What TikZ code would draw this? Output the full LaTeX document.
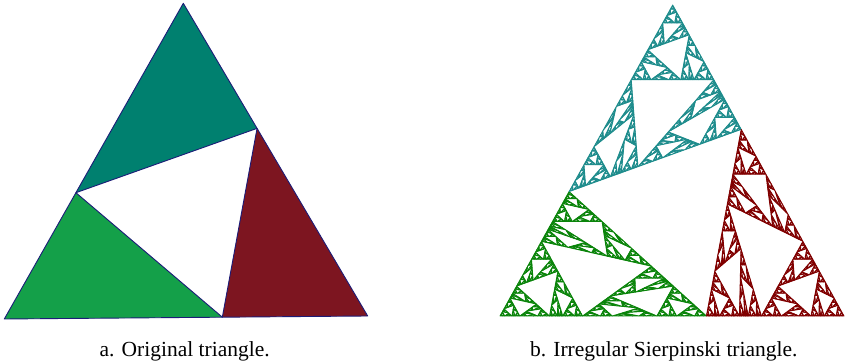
\documentclass[tikz,border=0pt]{standalone}
\usepackage{fontspec}
\setmainfont{Liberation Serif}
\definecolor{tealA}{HTML}{00806F}
\definecolor{redA}{HTML}{7D1520}
\definecolor{greenA}{HTML}{14A049}
\definecolor{edgeA}{HTML}{1C1C78}
\definecolor{tealB}{HTML}{1E8C8C}
\definecolor{redB}{HTML}{800000}
\definecolor{greenB}{HTML}{0A840A}
% recursive irregular Sierpinski: #1 depth, #2..#7 vertex coordinates (with units), #8 style
\newcommand\sierpT[8]{%
  \ifnum#1=0
    \filldraw[#8] (#2,#3)--(#4,#5)--(#6,#7)--cycle;
  \else
    \edef\sierpNext{%
      \noexpand\sierpT{\the\numexpr#1-1\relax}{#2}{#3}%
        {\the\dimexpr#6+(#2-#6)*2/5\relax}{\the\dimexpr#7+(#3-#7)*2/5\relax}%
        {\the\dimexpr#2+(#4-#2)*2/5\relax}{\the\dimexpr#3+(#5-#3)*2/5\relax}{\unexpanded{#8}}%
      \noexpand\sierpT{\the\numexpr#1-1\relax}%
        {\the\dimexpr#4+(#6-#4)*2/5\relax}{\the\dimexpr#5+(#7-#5)*2/5\relax}%
        {#4}{#5}%
        {\the\dimexpr#2+(#4-#2)*2/5\relax}{\the\dimexpr#3+(#5-#3)*2/5\relax}{\unexpanded{#8}}%
      \noexpand\sierpT{\the\numexpr#1-1\relax}%
        {\the\dimexpr#4+(#6-#4)*2/5\relax}{\the\dimexpr#5+(#7-#5)*2/5\relax}%
        {\the\dimexpr#6+(#2-#6)*2/5\relax}{\the\dimexpr#7+(#3-#7)*2/5\relax}%
        {#6}{#7}{\unexpanded{#8}}%
    }%
    \sierpNext
  \fi}
\begin{document}
\begin{tikzpicture}[x=1pt,y=1pt,
  piece/.style={draw=edgeA, line width=0.9pt, line join=round},
  fracG/.style={fill=greenB, draw=greenB, line width=0.8pt, line join=round},
  fracT/.style={fill=tealB, draw=tealB, line width=0.8pt, line join=round},
  fracR/.style={fill=redB, draw=redB, line width=0.8pt, line join=round},
  caption/.style={font=\fontsize{21.5}{26}\selectfont, anchor=base, inner sep=0pt}]
\useasboundingbox (0,0) rectangle (846,363);
% original triangle
\coordinate (p1) at (4.3,44);
\coordinate (p2) at (183.3,359.7);
\coordinate (p3) at (367.7,47);
\coordinate (q12) at (75.9,170.28);
\coordinate (q23) at (257.06,234.62);
\coordinate (q31) at (222.34,45.8);
\fill[greenA] (p1) -- (q31) -- (q12) -- cycle;
\fill[tealA] (q12) -- (p2) -- (q23) -- cycle;
\fill[redA] (q31) -- (q23) -- (p3) -- cycle;
\draw[piece] (p1) -- (p2) -- (p3) -- cycle;
\draw[piece] (q12) -- (q23) -- (q31) -- cycle;
% irregular Sierpinski triangle
\sierpT{6}{500pt}{47pt}{706.4pt}{47pt}{569.08pt}{171.4pt}{fracG}
\sierpT{6}{741.22pt}{233.6pt}{672.7pt}{358pt}{569.08pt}{171.4pt}{fracT}
\sierpT{6}{741.22pt}{233.6pt}{706.4pt}{47pt}{844pt}{47pt}{fracR}
% captions
\node[caption] (capa) at (184.7,6.5) {a. Original triangle.};
\node[caption] (capb) at (663.8,6.5) {b. Irregular Sierpinski triangle.};
\end{tikzpicture}
\end{document}
